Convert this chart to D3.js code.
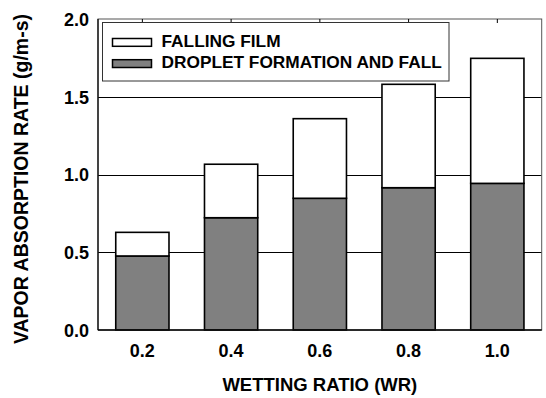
<!DOCTYPE html>
<html>
<head>
<meta charset="utf-8">
<script src="https://cdn.jsdelivr.net/npm/d3@7"></script>
<style>
  html, body { margin: 0; padding: 0; background: #fff; }
  svg { display: block; }
  text { font-family: "Liberation Sans", Arial, Helvetica, sans-serif; font-weight: bold; fill: #000; }
</style>
</head>
<body>
<svg id="chart" width="546" height="398"></svg>
<script>
// ---- data ----
const categories = ["0.2", "0.4", "0.6", "0.8", "1.0"];
const dropletValues = [0.476, 0.722, 0.847, 0.915, 0.943];      // droplet formation and fall
const fallingFilmValues = [0.152, 0.344, 0.512, 0.665, 0.804];  // falling film (stacked on top)
const yTickValues = [0.0, 0.5, 1.0, 1.5, 2.0];
const seriesNames = ["DROPLET FORMATION AND FALL", "FALLING FILM"];
const legendOrder = ["FALLING FILM", "DROPLET FORMATION AND FALL"];
const xTitle = "WETTING RATIO (WR)";
const yTitle = "VAPOR ABSORPTION RATE (g/m-s)";

// ---- layout ----
const W = 546, H = 398;
const m = { left: 98, top: 19, right: 4.3, bottom: 68 };
const svg = d3.select("#chart");
const colors = { "DROPLET FORMATION AND FALL": "#808080", "FALLING FILM": "#ffffff" };

const x = d3.scaleBand().domain(categories).range([m.left, W - m.right]).paddingInner(0.4).paddingOuter(0.2);
const y = d3.scaleLinear().domain([0, 2]).range([H - m.bottom, m.top]);

const rows = categories.map((c, i) => ({
  cat: c,
  "DROPLET FORMATION AND FALL": dropletValues[i],
  "FALLING FILM": fallingFilmValues[i]
}));
const stacked = d3.stack().keys(seriesNames)(rows);

// gridlines
const crisp = v => Math.round(v) + 0.5;
svg.append("g").selectAll("line").data(yTickValues.filter(d => d > 0 && d < 2)).join("line")
  .attr("x1", m.left).attr("x2", W - m.right)
  .attr("y1", d => crisp(y(d))).attr("y2", d => crisp(y(d)))
  .attr("stroke", "#000").attr("stroke-width", 1);

// bars
svg.append("g").selectAll("g").data(stacked).join("g")
  .attr("fill", d => colors[d.key])
  .selectAll("rect").data(d => d).join("rect")
  .attr("x", d => x(d.data.cat))
  .attr("width", x.bandwidth())
  .attr("y", d => y(d[1]))
  .attr("height", d => y(d[0]) - y(d[1]))
  .attr("stroke", "#000").attr("stroke-width", 1.6);

// frame
const x0 = m.left, x1 = W - m.right, yT = m.top, yB = H - m.bottom;
svg.append("rect").attr("x", x0).attr("y", yT).attr("width", x1 - x0).attr("height", yB - yT)
  .attr("fill", "none").attr("stroke", "#555").attr("stroke-width", 1);
svg.append("line").attr("x1", x0).attr("x2", x1).attr("y1", yB).attr("y2", yB).attr("stroke", "#000").attr("stroke-width", 1.5);
svg.append("line").attr("x1", x0).attr("x2", x0).attr("y1", yT).attr("y2", yB).attr("stroke", "#000").attr("stroke-width", 1.2);

// top ticks at category centres
svg.append("g").selectAll("line").data(categories).join("line")
  .attr("x1", d => x(d) + x.bandwidth() / 2).attr("x2", d => x(d) + x.bandwidth() / 2)
  .attr("y1", yT).attr("y2", yT + 4).attr("stroke", "#000").attr("stroke-width", 1);

// y axis labels
const yAxis = d3.axisLeft(y).tickValues(yTickValues).tickFormat(d3.format(".1f")).tickSize(0).tickPadding(9);
const yg = svg.append("g").attr("transform", `translate(${x0},0)`).call(yAxis);
yg.select(".domain").remove();
yg.selectAll("text").attr("font-size", 18).attr("font-family", null).attr("dy", "0.36em");

// x axis labels
const xAxis = d3.axisBottom(x).tickSize(0).tickPadding(14.5);
const xg = svg.append("g").attr("transform", `translate(0,${yB})`).call(xAxis);
xg.select(".domain").remove();
xg.selectAll("text").attr("font-size", 18).attr("font-family", null);

// axis titles
svg.append("text").attr("x", (x0 + x1) / 2).attr("y", 390.5).attr("text-anchor", "middle")
  .attr("font-size", 18.5).text(xTitle);
svg.append("text").attr("transform", `translate(27.5,179) rotate(-90)`)
  .attr("text-anchor", "middle").attr("font-size", 19.5).text(yTitle);

// legend
const lg = svg.append("g");
lg.append("rect").attr("x", 102.5).attr("y", 22.5).attr("width", 346.5).attr("height", 58.5)
  .attr("fill", "#fff").attr("stroke", "#333").attr("stroke-width", 1);
legendOrder.forEach((name, i) => {
  const yy = 38.5 + i * 21.2;
  lg.append("rect").attr("x", 112.5).attr("y", yy).attr("width", 39).attr("height", 7.8)
    .attr("fill", colors[name]).attr("stroke", "#000").attr("stroke-width", 1.5);
  lg.append("text").attr("x", 161.5).attr("y", 46.9 + i * 21).attr("font-size", 17.3).text(name);
});
</script>
</body>
</html>
